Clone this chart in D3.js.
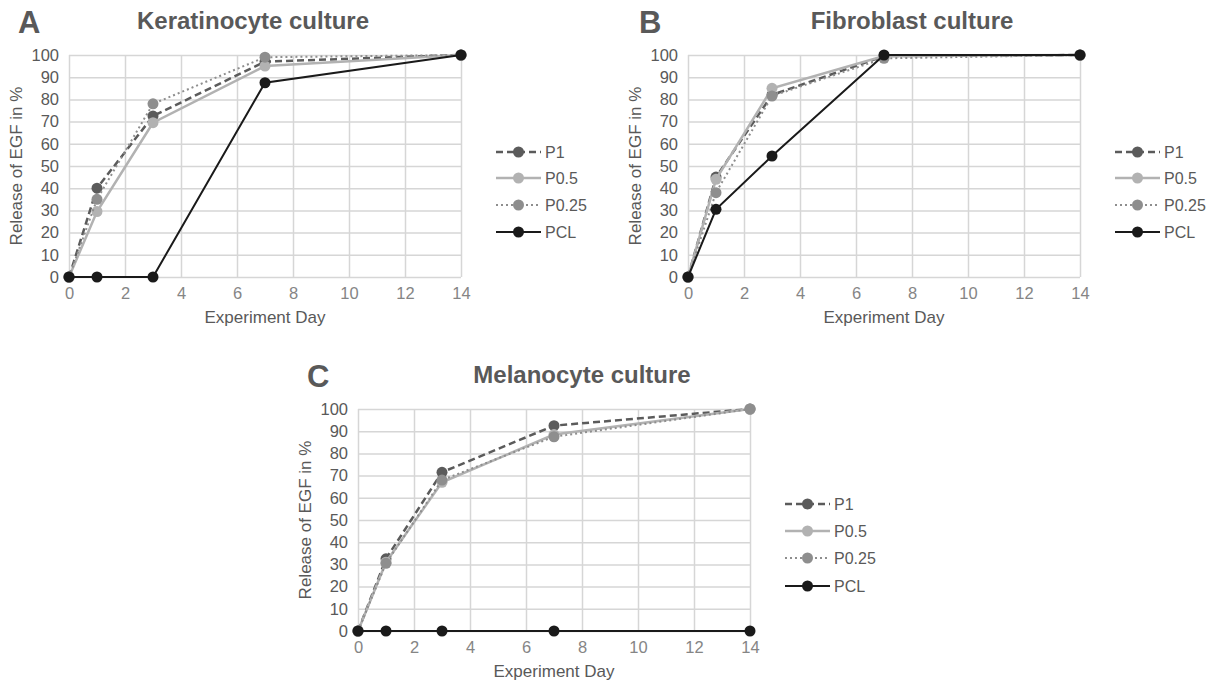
<!DOCTYPE html>
<html>
<head>
<meta charset="utf-8">
<script src="https://cdn.jsdelivr.net/npm/d3@7"></script>
<style>
  body { margin: 0; background: #fff; }
  svg { display: block; font-family: "Liberation Sans", Arial, sans-serif; }
</style>
</head>
<body>
<svg id="chart" width="1216" height="682"></svg>
<script>
// data
const days = [0, 1, 3, 7, 14];
const seriesNames = ["P1", "P0.5", "P0.25", "PCL"];
const xTicks = [0, 2, 4, 6, 8, 10, 12, 14];
const yTicks = [0, 10, 20, 30, 40, 50, 60, 70, 80, 90, 100];

const keraP1 = [0, 40, 72.5, 97, 100];
const keraP05 = [0, 29.5, 69.5, 95, 100];
const keraP025 = [0, 35, 78, 99, 100];
const keraPCL = [0, 0, 0, 87.5, 100];

const fibroP1 = [0, 45, 82, 99.5, 100];
const fibroP05 = [0, 44, 85, 99.5, 100];
const fibroP025 = [0, 38, 81.5, 98.5, 100];
const fibroPCL = [0, 30.5, 54.5, 100, 100];

const melaP1 = [0, 32.5, 71.5, 92.5, 100];
const melaP05 = [0, 31, 67, 88.5, 100];
const melaP025 = [0, 30.5, 68, 87.5, 100];
const melaPCL = [0, 0, 0, 0, 0];

const titles = ["Keratinocyte culture", "Fibroblast culture", "Melanocyte culture"];
const letters = ["A", "B", "C"];

// look of each series (same order as seriesNames)
const styles = [
  { color: "#5b5b5b", width: 2.5, dash: "7,4", r: 5.5 },
  { color: "#b2b2b2", width: 2.5, dash: null, r: 5.5 },
  { color: "#8e8e8e", width: 2, dash: "2,3", r: 5.5 },
  { color: "#1a1a1a", width: 2, dash: null, r: 5.5 }
];

// where each panel sits
const panels = [
  { left: 69, top: 55, values: [keraP1, keraP05, keraP025, keraPCL], titleX: 253, letterX: 18 },
  { left: 688, top: 55, values: [fibroP1, fibroP05, fibroP025, fibroPCL], titleX: 912, letterX: 639 },
  { left: 358, top: 409, values: [melaP1, melaP05, melaP025, melaPCL], titleX: 582, letterX: 307 }
];

const width = 392, height = 222;
const svg = d3.select("#chart");

panels.forEach(function(p, pi) {
  const g = svg.append("g").attr("transform", "translate(" + p.left + "," + p.top + ")");

  const x = d3.scaleLinear().domain([0, 14]).range([0, width]);
  const y = d3.scaleLinear().domain([0, 100]).range([height, 0]);

  // grid via axes
  const xAxis = g.append("g")
    .attr("transform", "translate(0," + height + ")")
    .call(d3.axisBottom(x).tickValues(xTicks).tickSize(-height).tickPadding(10));
  const yAxis = g.append("g")
    .call(d3.axisLeft(y).tickValues(yTicks).tickSize(-width).tickPadding(10));

  [xAxis, yAxis].forEach(function(a) {
    a.select(".domain").remove();
    a.selectAll("line").attr("stroke", "#d6d6d6").attr("stroke-width", 1.5);
    a.selectAll("text").style("font-size", "16.5px");
  });
  xAxis.selectAll("text").attr("fill", "#858585");
  yAxis.selectAll("text").attr("fill", "#595959");

  // axis titles
  g.append("text")
    .attr("x", width / 2).attr("y", height + 40).attr("dy", "0.35em")
    .attr("text-anchor", "middle").attr("fill", "#595959")
    .style("font-size", "17px").text("Experiment Day");
  g.append("text")
    .attr("transform", "translate(-53," + height / 2 + ") rotate(-90)")
    .attr("dy", "0.35em").attr("text-anchor", "middle").attr("fill", "#595959")
    .style("font-size", "17px").text("Release of EGF in %");

  // title and panel letter
  svg.append("text")
    .attr("x", p.titleX).attr("y", p.top - 26)
    .attr("text-anchor", "middle").attr("fill", "#595959")
    .style("font-size", "24px").style("font-weight", "bold").text(titles[pi]);
  svg.append("text")
    .attr("x", p.letterX).attr("y", p.top - 22)
    .attr("fill", "#595959")
    .style("font-size", "31px").style("font-weight", "bold").text(letters[pi]);

  // series
  p.values.forEach(function(vals, si) {
    const st = styles[si];
    const pts = days.map(function(d, i) { return [d, vals[i]]; });
    const line = d3.line()
      .x(function(d) { return x(d[0]); })
      .y(function(d) { return y(d[1]); });

    g.append("path")
      .attr("d", line(pts))
      .attr("fill", "none")
      .attr("stroke", st.color)
      .attr("stroke-width", st.width)
      .attr("stroke-dasharray", st.dash);

    g.selectAll(null)
      .data(pts)
      .enter().append("circle")
      .attr("cx", function(d) { return x(d[0]); })
      .attr("cy", function(d) { return y(d[1]); })
      .attr("r", st.r)
      .attr("fill", st.color);
  });

  // legend
  const rowY = pi < 2 ? [152, 178, 205, 232] : [504, 531, 558, 586];
  const lg = svg.append("g").attr("transform", "translate(" + (p.left + width) + ",0)");
  seriesNames.forEach(function(name, si) {
    const st = styles[si];
    const ry = rowY[si];
    lg.append("line")
      .attr("x1", 35).attr("x2", 80).attr("y1", ry).attr("y2", ry)
      .attr("stroke", st.color).attr("stroke-width", st.width)
      .attr("stroke-dasharray", st.dash);
    lg.append("circle")
      .attr("cx", 57.5).attr("cy", ry).attr("r", st.r).attr("fill", st.color);
    lg.append("text")
      .attr("x", 84).attr("y", ry).attr("dy", "0.35em")
      .attr("fill", "#595959").style("font-size", "16px").text(name);
  });
});
</script>
</body>
</html>
